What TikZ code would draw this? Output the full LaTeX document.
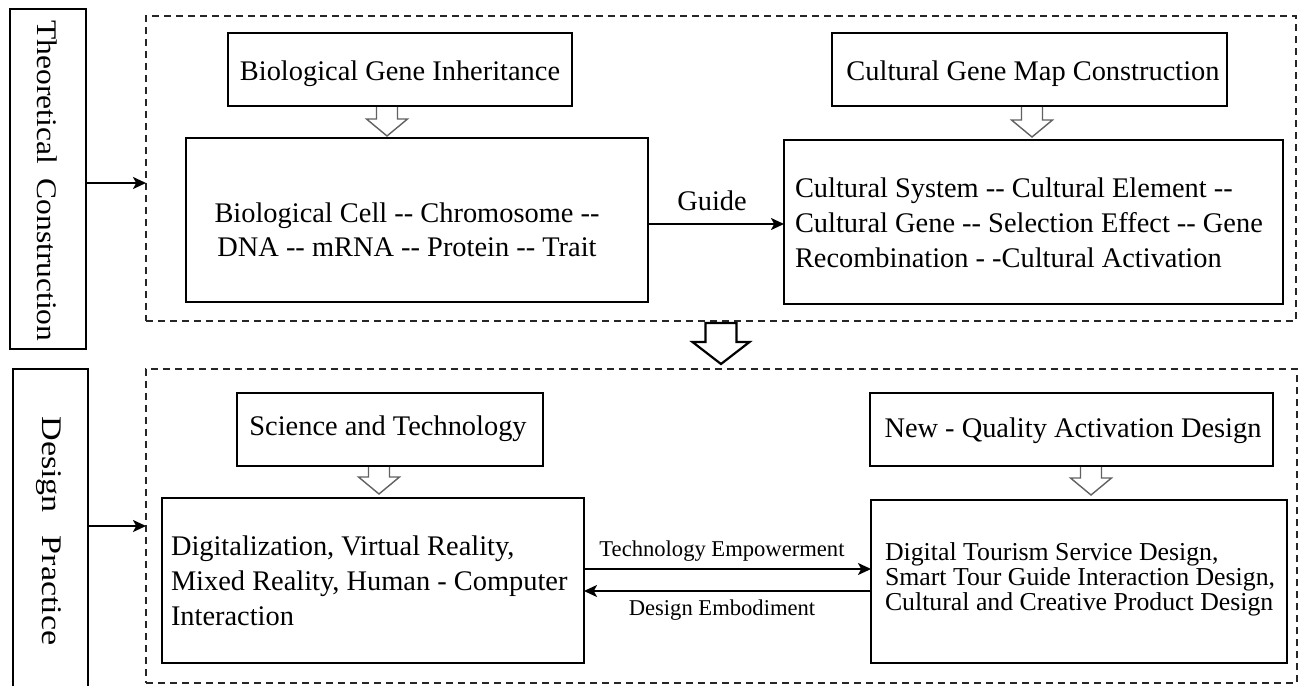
\documentclass[tikz,border=0pt]{standalone}
\usepackage{fontspec}
\usepackage{graphicx}
\setmainfont{Liberation Serif}
\usetikzlibrary{arrows.meta,calc}
\newcommand\dd{\mbox{-}\mbox{-}}
% hollow down arrow: x, ytop, ytip, stem half width, head half width, head length, style
\newcommand\hdown[7]{\filldraw[#7] (#1-#4,#2) -- (#1-#4,#3-#6) -- (#1-#5,#3-#6) -- (#1,#3) -- (#1+#5,#3-#6) -- (#1+#4,#3-#6) -- (#1+#4,#2) -- cycle;}
\tikzset{
  box/.style={draw=black, line width=1pt, inner sep=0pt, outer sep=0pt},
  frame/.style={draw=black!85, line width=0.75pt, dash pattern=on 3.6pt off 2.4pt, inner sep=0pt, outer sep=0pt},
  txt/.style={font=\fontsize{14.2}{17.5}\selectfont, inner sep=0pt, outer sep=0pt},
  smalltxt/.style={font=\fontsize{12.9}{12.5}\selectfont, inner sep=0pt, outer sep=0pt},
  lbltxt/.style={font=\fontsize{11.3}{13}\selectfont, inner sep=0pt, outer sep=0pt},
  conn/.style={draw=black, line width=1pt, -{Stealth[length=6.5pt,width=6pt,inset=1.6pt]}},
  hsmall/.style={draw=black!62, fill=white, line width=0.7pt, line join=miter},
  hbig/.style={draw=black, fill=white, line width=1.1pt, line join=miter},
}
\begin{document}
\begin{tikzpicture}[x=0.5pt,y=-0.5pt]
\useasboundingbox (0,0) rectangle (1298,686);
\clip (0,0) rectangle (1298,686);

% dashed frames
\node[frame, minimum width=575pt, minimum height=152.5pt] (d1) at (721,168.5) {};
\node[frame, minimum width=575.5pt, minimum height=157pt] (d2) at (721.5,526) {};

% hollow arrows
\hdown{387}{106}{136}{10.5}{20.5}{17}{hsmall}
\hdown{1032}{106}{137}{10.5}{20.5}{17}{hsmall}
\hdown{379}{466}{494}{10.5}{20.5}{17}{hsmall}
\hdown{1091}{466}{495}{10.5}{20.5}{17}{hsmall}
\hdown{721}{323}{364}{15.5}{28.5}{22}{hbig}

% left label boxes
\node[box, minimum width=38pt, minimum height=170pt] (l1) at (48,179) {};
\node[box, minimum width=37.5pt, minimum height=165.5pt] (l2) at (50.5,534.5) {};
\node[txt, rotate=-90] (tl1) at (47.5,181) {\scalebox{1.11}[1]{Theoretical\hspace{6.5pt}Construction}};
\node[txt, rotate=-90] (tl2) at (49,531) {\scalebox{1.2}[1]{Design\hspace{9.5pt}Practice}};

% top section boxes
\node[box, minimum width=172pt, minimum height=36.5pt] (bgi) at (400,69.5) {};
\node[box, minimum width=197.5pt, minimum height=36.5pt] (cgm) at (1029.5,69.5) {};
\node[box, minimum width=231pt, minimum height=82pt] (bc) at (417,220) {};
\node[box, minimum width=249.5pt, minimum height=82pt] (cs) at (1033.5,222) {};

\node[txt, anchor=base] (tbgi) at (400,80) {Biological Gene Inheritance};
\node[txt, anchor=base] (tcgm) at (1033,80) {Cultural Gene Map Construction};
\node[txt, anchor=base, font=\fontsize{14.2}{17}\selectfont] (tbc) at (407,222) {\begin{tabular}[t]{@{}c@{}}Biological Cell \dd{} Chromosome \dd\\DNA \dd{} mRNA \dd{} Protein \dd{} Trait\end{tabular}};
\node[txt, anchor=base west] (tcs) at (795,197) {\begin{tabular}[t]{@{}l@{}}Cultural System \dd{} Cultural Element \dd\\Cultural Gene \dd{} Selection Effect \dd{} Gene\\Recombination - -Cultural Activation\end{tabular}};
\node[txt, anchor=base] (tguide) at (712,210) {Guide};

% bottom section boxes
\node[box, minimum width=153pt, minimum height=36.5pt] (st) at (390,429.5) {};
\node[box, minimum width=201.5pt, minimum height=36.5pt] (nq) at (1071.5,429.5) {};
\node[box, minimum width=211pt, minimum height=82.5pt] (dvr) at (373,580.5) {};
\node[box, minimum width=208pt, minimum height=81.5pt] (dt) at (1079,581.5) {};

\node[txt, anchor=base] (tst) at (388,435) {Science and Technology};
\node[txt, anchor=base] (tnq) at (1073,437) {New - Quality Activation Design};
\node[txt, anchor=base west] (tdvr) at (171,555) {\begin{tabular}[t]{@{}l@{}}Digitalization, Virtual Reality,\\Mixed Reality, Human - Computer\\Interaction\end{tabular}};
\node[smalltxt, anchor=base west] (tdt) at (885,560) {\begin{tabular}[t]{@{}l@{}}Digital Tourism Service Design,\\Smart Tour Guide Interaction Design,\\Cultural and Creative Product Design\end{tabular}};
\node[lbltxt, anchor=base] (tte) at (722,556) {Technology Empowerment};
\node[lbltxt, anchor=base] (tde) at (722,615) {Design Embodiment};

% connectors
\draw[conn] ([yshift=-2pt]l1.east) -- ([yshift=-2pt]l1.east -| d1.west);
\draw[conn] (d2.west -| l2.east) -- (d2.west);
\draw[conn] ([yshift=-2pt]bc.east) -- ([yshift=-2pt]bc.east -| cs.west);
\draw[conn] ([yshift=5.75pt]dvr.east) -- ([yshift=5.75pt]dvr.east -| dt.west);
\draw[conn] ([yshift=-5.25pt]dvr.east -| dt.west) -- ([yshift=-5.25pt]dvr.east);
\end{tikzpicture}
\end{document}
